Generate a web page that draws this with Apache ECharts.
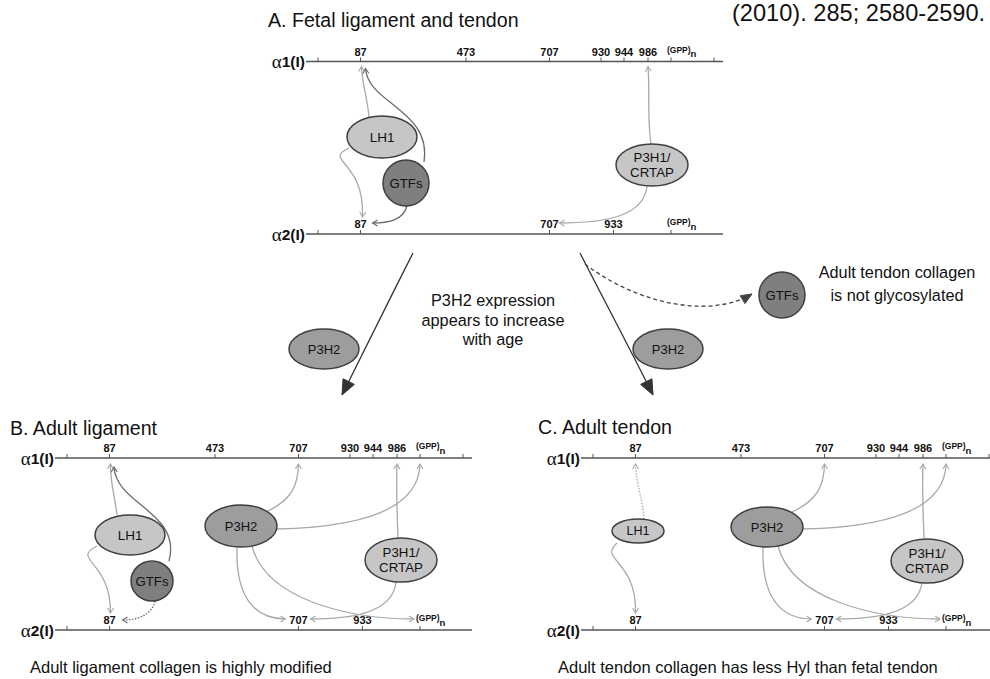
<!DOCTYPE html>
<html><head><meta charset="utf-8">
<script src="https://cdn.jsdelivr.net/npm/echarts@6/dist/echarts.min.js"></script>
<style>html,body{margin:0;padding:0;background:#fff}#c{width:990px;height:679px}</style>
</head><body><div id="c"></div>
<script>
// ================= DATA (content) =================
const panelTitles = ['A. Fetal ligament and tendon', 'B. Adult ligament', 'C. Adult tendon'];
const citation = '(2010). 285; 2580-2590.';
const chainNames = ['1(I)', '2(I)'];           // each preceded by α
const alpha1Sites = ['87', '473', '707', '930', '944', '986', '(GPP)n'];
const alpha2Sites = ['87', '707', '933', '(GPP)n'];
const enzymeNames = { LH1: 'LH1', GTF: 'GTFs', P3H1: 'P3H1/\nCRTAP', P3H2: 'P3H2' };
const middleNote = ['P3H2 expression', 'appears to increase', 'with age'];
const glycNote = ['Adult tendon collagen', 'is not glycosylated'];
const captions = ['Adult ligament collagen is highly modified', 'Adult tendon collagen has less Hyl than fetal tendon'];
// modifications: [panel, enzyme, chain(1|2), site, line style]
const modsA = [[0,'LH1',1,'87','solid'],[0,'GTF',1,'87','solid'],[0,'LH1',2,'87','solid'],[0,'GTF',2,'87','solid'],[0,'P3H1',1,'986','solid'],[0,'P3H1',2,'707','solid']];
const modsB = [[1,'LH1',1,'87','solid'],[1,'GTF',1,'87','solid'],[1,'LH1',2,'87','solid'],[1,'GTF',2,'87','dotted'],[1,'P3H2',1,'707','solid'],[1,'P3H2',1,'(GPP)n','solid'],[1,'P3H1',1,'986','solid'],[1,'P3H2',2,'707','solid'],[1,'P3H2',2,'(GPP)n','solid'],[1,'P3H1',2,'707','solid']];
const modsC = [[2,'LH1',1,'87','dotted'],[2,'LH1',2,'87','solid'],[2,'P3H2',1,'707','solid'],[2,'P3H2',1,'(GPP)n','solid'],[2,'P3H1',1,'986','solid'],[2,'P3H2',2,'707','solid'],[2,'P3H2',2,'(GPP)n','solid'],[2,'P3H1',2,'707','solid']];

// ================= LAYOUT (positions / styles) =================
const panelGeom = [{x0:318,y1:61.5,y2:234},{x0:67,y1:458,y2:630},{x0:593,y1:458,y2:630}];
const siteOffset = {'87':42.5,'473':148,'707':231.5,'930':283,'944':306,'986':330,'(GPP)n':353,'933':295.5};
const chainSpan = [-12, 405];
const endTicks = {1:[0,396], 2:[0]};
const titlePos = [[268,20],[10,428],[538,427]];
const COL = {light:'#c6c6c6', mid:'#9d9d9d', dark:'#7f7f7f', edge:'#3f3f3f', chain:'#555', arrL:'#a9a9a9', arrD:'#6a6a6a', text:'#111'};
const FONT = '"Liberation Sans", Arial, Helvetica, sans-serif';
// enzyme glyphs per panel: [cx, cy, rx, ry, tone, fontSize]
const enzymeGeom = [
  {LH1:[382,137,35,21,'light',13.5], GTF:[406,183,23,23,'dark',13.2], P3H1:[652,165,36,21,'light',13.3]},
  {LH1:[130,535,35,20,'light',13.5], GTF:[152,581,21,20,'dark',13.2], P3H2:[241,526,36,21,'mid',13], P3H1:[401,560,36,22,'light',13.3]},
  {LH1:[638,531,26,12,'light',12.5], P3H2:[767,527,36,20,'mid',13], P3H1:[927,561,36,22,'light',13.3]}
];
// curve geometry for each modification (start, ctrl1, ctrl2, tip offset from site)
const curveA = [
  [[369,117],[367,95],[362,84],[1,5]],
  [[424,162],[432,110],[368,104],[5,7]],
  [[349,148],[322,161],[365,160],[2,-17]],
  [[407,206],[403,221],[387,223],[12,-11]],
  [[651,144],[647,118],[650,92],[0,5]],
  [[647,186],[644,218],[600,223],[10,-11]]
];
const curveB = [
  [[117,515],[115,497],[110,482],[1,6]],
  [[169,561],[182,512],[116,505],[4.5,9]],
  [[97,546],[70,560],[111,560],[1,-17]],
  [[155,601],[152,615],[138,620],[13,-10]],
  [[266,512],[292,500],[298,485],[0,6]],
  [[277,529],[372,527],[419,505],[0,6]],
  [[398,538],[397,510],[396,490],[0,6]],
  [[237,547],[235,606],[262,619],[-13,-11]],
  [[252,546],[266,600],[350,619],[-6,-11]],
  [[396,582],[393,615],[345,619],[12,-11]]
];
const sh = (c,d)=>[[c[0][0]+d,c[0][1]],[c[1][0]+d,c[1][1]],[c[2][0]+d,c[2][1]],c[3]];
const curveC = [
  [[644,519],[643,500],[636,484],[0,6]],
  [[617,543],[598,560],[637,560],[0,-17]]
].concat(curveB.slice(4).map(c=>sh(c,526)));

// ================= BUILD MARKS =================
const marks = [];
const siteX = (p, s) => panelGeom[p].x0 + siteOffset[s];
const chainY = (p, c) => c === 1 ? panelGeom[p].y1 : panelGeom[p].y2;

panelTitles.forEach((t,i)=>marks.push({k:'text', x:titlePos[i][0], y:titlePos[i][1], text:t, size:19.6, align:'left'}));
marks.push({k:'text', x:732, y:13, text:citation, size:23.6, align:'left'});

[0,1,2].forEach(p=>{
  [1,2].forEach(c=>{
    const g = panelGeom[p], y = chainY(p,c);
    marks.push({k:'line', x1:g.x0+chainSpan[0], x2:g.x0+chainSpan[1], y:y});
    marks.push({k:'chainLabel', x:g.x0+chainSpan[0]-1, y:y, text:chainNames[c-1]});
    endTicks[c].forEach(o=>marks.push({k:'tick', x:g.x0+o, y:y}));
    (c===1?alpha1Sites:alpha2Sites).forEach(s=>{
      marks.push({k:'tick', x:siteX(p,s), y:y});
      marks.push({k:'site', x:siteX(p,s), y:y-10, text:s});
    });
  });
});

function addMods(mods, curves){
  mods.forEach((m,i)=>{
    const [p, enz, c, s, style] = m; const cv = curves[i];
    const tip = [siteX(p,s)+cv[3][0], chainY(p,c)+cv[3][1]];
    marks.push({k:'curve', pts:[cv[0],cv[1],cv[2],tip], color: enz==='GTF'?COL.arrD:COL.arrL, dash: style==='dotted'?[1.5,1.5]:null, head:'chev', hs:5, lw:1.3});
  });
}
addMods(modsA, curveA); addMods(modsB, curveB); addMods(modsC, curveC);

// transition arrows and GTF loss
marks.push({k:'curve', pts:[[413,253],[389,300],[366,347],[342,395]], color:'#333', lw:1.3, head:'fill', hs:15});
marks.push({k:'curve', pts:[[580,253],[604,300],[629,347],[653,395]], color:'#333', lw:1.3, head:'fill', hs:15});
marks.push({k:'curve', pts:[[585,264],[640,306],[712,318],[752,294]], color:'#444', lw:1.3, dash:[4,3], head:'fill', hs:11});

enzymeGeom.forEach((eg,p)=>{
  Object.keys(eg).forEach(k=>{
    const e = eg[k];
    marks.push({k:'enzyme', cx:e[0], cy:e[1], rx:e[2], ry:e[3], fill:COL[e[4]], text:enzymeNames[k], size:e[5]});
  });
});
marks.push({k:'enzyme', cx:324, cy:349, rx:35, ry:20, fill:COL.mid, text:enzymeNames.P3H2, size:13});
marks.push({k:'enzyme', cx:668, cy:349, rx:35, ry:20, fill:COL.mid, text:enzymeNames.P3H2, size:13});
marks.push({k:'enzyme', cx:782, cy:295, rx:23, ry:23, fill:COL.dark, text:enzymeNames.GTF, size:13.2});

middleNote.forEach((t,i)=>marks.push({k:'text', x:493, y:300+i*19.5, text:t, size:16.3, align:'center'}));
glycNote.forEach((t,i)=>marks.push({k:'text', x:897, y:272+i*23, text:t, size:16.3, align:'center'}));
marks.push({k:'text', x:30, y:667, text:captions[0], size:16.5, align:'left'});
marks.push({k:'text', x:558, y:667, text:captions[1], size:16.5, align:'left'});

// ================= RENDER =================
function headPts(tip, from, size, type){
  const dx=tip[0]-from[0], dy=tip[1]-from[1], L=Math.hypot(dx,dy)||1, ux=dx/L, uy=dy/L;
  const w = type==='fill' ? size*0.42 : size*0.6;
  const bx=tip[0]-ux*size, by=tip[1]-uy*size, px=-uy*w, py=ux*w;
  return [[bx+px,by+py],tip,[bx-px,by-py]];
}
function renderItem(params, api){
  const m = marks[params.dataIndex];
  const P = (x,y)=>api.coord([x,y]);
  if (m.k==='text'){
    const q=P(m.x,m.y);
    return {type:'text', x:q[0], y:q[1], style:{text:m.text, fontSize:m.size, fontFamily:FONT, fill:COL.text, align:m.align, verticalAlign:'middle'}};
  }
  if (m.k==='line'){
    const a=P(m.x1,m.y), b=P(m.x2,m.y);
    return {type:'line', shape:{x1:a[0],y1:a[1],x2:b[0],y2:b[1]}, style:{stroke:COL.chain, lineWidth:1.7}};
  }
  if (m.k==='tick'){
    const a=P(m.x,m.y-4), b=P(m.x,m.y);
    return {type:'line', shape:{x1:a[0],y1:a[1],x2:b[0],y2:b[1]}, style:{stroke:COL.chain, lineWidth:1}};
  }
  if (m.k==='chainLabel'){
    const q=P(m.x,m.y);
    return {type:'text', x:q[0], y:q[1], style:{text:'{a|α}{b|'+m.text+'}', align:'right', verticalAlign:'middle',
      rich:{a:{fontFamily:'"Liberation Serif", serif', fontSize:19, fill:COL.text}, b:{fontFamily:FONT, fontWeight:'bold', fontSize:15.5, fill:COL.text}}}};
  }
  if (m.k==='site'){
    const q=P(m.x,m.y);
    if (m.text==='(GPP)n'){
      return {type:'group', children:[
        {type:'text', x:q[0]-4, y:q[1]-2, style:{text:'(GPP)', fontSize:8.5, fontWeight:'bold', fontFamily:FONT, fill:COL.text, align:'left', verticalAlign:'middle'}},
        {type:'text', x:q[0]+19.5, y:q[1]+2, style:{text:'n', fontSize:9.5, fontWeight:'bold', fontFamily:FONT, fill:COL.text, align:'left', verticalAlign:'middle'}}
      ]};
    }
    return {type:'text', x:q[0], y:q[1], style:{text:m.text, fontSize:11, fontWeight:'bold', fontFamily:FONT, fill:COL.text, align:'center', verticalAlign:'middle'}};
  }
  if (m.k==='curve'){
    const p=m.pts.map(t=>P(t[0],t[1]));
    const hp = headPts(p[3], p[2], m.hs, m.head);
    const children=[{type:'bezierCurve', shape:{x1:p[0][0],y1:p[0][1],cpx1:p[1][0],cpy1:p[1][1],cpx2:p[2][0],cpy2:p[2][1],x2:p[3][0],y2:p[3][1]},
      style:{stroke:m.color, lineWidth:m.lw, fill:null, lineDash:m.dash||null}}];
    if (m.head==='fill') children.push({type:'polygon', shape:{points:hp}, style:{fill:m.color, stroke:m.color, lineWidth:1}});
    else children.push({type:'polyline', shape:{points:hp}, style:{stroke:m.color, lineWidth:1.1, fill:null}});
    return {type:'group', children};
  }
  if (m.k==='enzyme'){
    const c=P(m.cx,m.cy);
    return {type:'group', children:[
      {type:'ellipse', shape:{cx:c[0],cy:c[1],rx:m.rx,ry:m.ry}, style:{fill:m.fill, stroke:COL.edge, lineWidth:1.5}},
      {type:'text', x:c[0], y:c[1], style:{text:m.text, fontSize:m.size, fontFamily:FONT, fill:COL.text, align:'center', verticalAlign:'middle', lineHeight:15}}
    ]};
  }
  return null;
}

const chart = echarts.init(document.getElementById('c'), null, {renderer:'svg'});
chart.setOption({
  animation:false,
  backgroundColor:'#fff',
  grid:{left:0,right:0,top:0,bottom:0},
  xAxis:{type:'value', min:0, max:990, show:false},
  yAxis:{type:'value', min:0, max:679, inverse:true, show:false},
  series:[{type:'custom', renderItem, clip:false, data:marks.map((m,i)=>[i,0]), silent:true}]
});
</script></body></html>
